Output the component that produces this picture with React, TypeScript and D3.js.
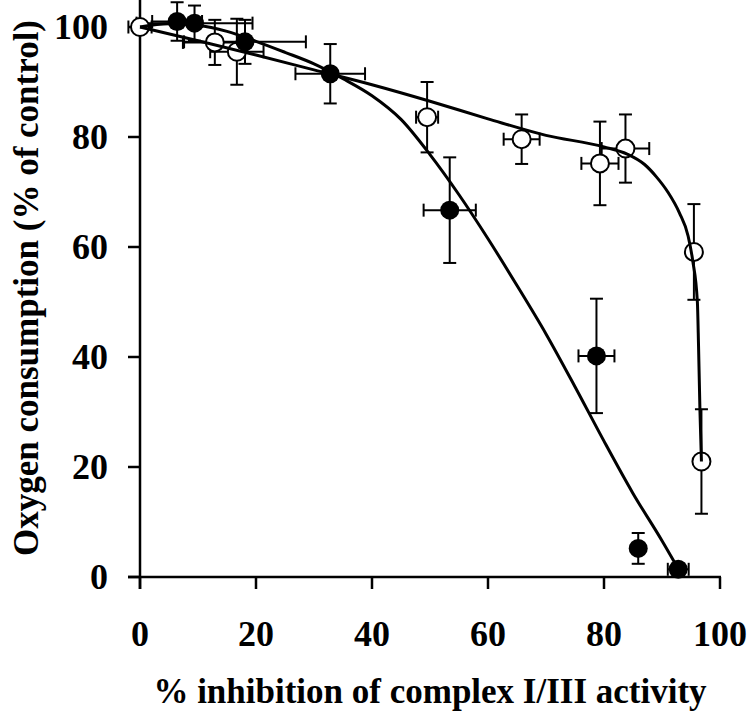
import React from "react";
import * as d3 from "d3";

// Filled circles
const filledX = [6.4, 9.4, 18.1, 32.8, 53.4, 78.7, 85.9, 92.8];
const filledY = [101.0, 100.7, 97.3, 91.5, 66.7, 40.2, 5.2, 1.4];
const filledXErr = [4.3, 10, 10.5, 6, 4.5, 3.1, 0, 1.8];
const filledYErr = [3.5, 3.2, 4, 5.4, 9.6, 10.4, 2.8, 1];

// Open circles
const openX = [0, 12.9, 16.7, 49.5, 65.8, 79.3, 83.7, 95.5, 96.8];
const openY = [100, 97.2, 95.5, 83.6, 79.6, 75.2, 77.9, 59.1, 21.0];
const openXErr = [2, 5.5, 4.6, 1.9, 3.1, 3.2, 4.1, 0, 0];
const openYErr = [1, 4.1, 6, 6.4, 4.5, 7.6, 6.2, 8.7, 9.5];

// Fitted curves
const filledCurveX = [0, 5, 10, 15, 20, 25, 30, 35, 40, 45, 50, 55, 60, 65, 70, 75, 80, 85, 90, 92.8];
const filledCurveY = [100, 100.6, 100.3, 99.2, 97.4, 95.4, 93.3, 90.6, 87.5, 83.2, 76.8, 69.5, 61.5, 53, 44.2, 34.6, 24.7, 15.2, 6.6, 1.5];
const openCurveX = [0, 10, 20, 30, 40, 50, 60, 70, 80, 84, 87, 89, 91, 93, 94.5, 95.3, 96.1, 96.3, 96.55, 96.8];
const openCurveY = [100, 97.5, 94.9, 92.2, 89.5, 86.5, 83.3, 80.3, 78.2, 76.9, 75, 72.8, 70, 66.2, 62, 57.5, 50, 42, 30, 21];

const xTicks = [0, 20, 40, 60, 80, 100];
const yTicks = [0, 20, 40, 60, 80, 100];

const FONT = "'Liberation Serif', 'Times New Roman', serif";

export default function App() {
  const x = d3.scaleLinear().domain([0, 100]).range([140, 720]);
  const y = d3.scaleLinear().domain([0, 100]).range([577, 27]);
  const line = d3
    .line<[number, number]>()
    .x((d) => x(d[0]))
    .y((d) => y(d[1]))
    .curve(d3.curveMonotoneX);
  const filledCurve = filledCurveX.map((v, i) => [v, filledCurveY[i]] as [number, number]);
  const openCurve = openCurveX.map((v, i) => [v, openCurveY[i]] as [number, number]);
  const cap = 6.5;

  const errorBars = (xs: number[], ys: number[], xe: number[], ye: number[], key: string) =>
    xs.map((xv, i) => {
      const cx = x(xv);
      const cy = y(ys[i]);
      const els: React.ReactNode[] = [];
      if (ye[i] > 0) {
        const y1 = y(ys[i] + ye[i]);
        const y2 = y(ys[i] - ye[i]);
        els.push(<line key="v" x1={cx} x2={cx} y1={y1} y2={y2} />);
        els.push(<line key="vt" x1={cx - cap} x2={cx + cap} y1={y1} y2={y1} />);
        els.push(<line key="vb" x1={cx - cap} x2={cx + cap} y1={y2} y2={y2} />);
      }
      if (xe[i] > 0) {
        const x1 = x(xv - xe[i]);
        const x2 = x(xv + xe[i]);
        els.push(<line key="h" x1={x1} x2={x2} y1={cy} y2={cy} />);
        els.push(<line key="hl" x1={x1} x2={x1} y1={cy - cap} y2={cy + cap} />);
        els.push(<line key="hr" x1={x2} x2={x2} y1={cy - cap} y2={cy + cap} />);
      }
      return <g key={key + i}>{els}</g>;
    });

  return (
    <svg
      width={750}
      height={716}
      style={{ position: "absolute", left: 0, top: 0, background: "#fff" }}
      fontFamily={FONT}
      fontWeight="bold"
    >
      <rect x={0} y={0} width={750} height={716} fill="#fff" />
      {/* axes */}
      <g stroke="#000" strokeWidth={2.5}>
        <line x1={140} x2={140} y1={0} y2={589} />
        <line x1={128} x2={721} y1={577} y2={577} />
        {xTicks.map((t) => (
          <line key={"xt" + t} x1={x(t)} x2={x(t)} y1={577} y2={589} />
        ))}
        {yTicks.map((t) => (
          <line key={"yt" + t} x1={128} x2={140} y1={y(t)} y2={y(t)} />
        ))}
      </g>
      <g fontSize={36} fill="#000">
        {xTicks.map((t) => (
          <text key={"xl" + t} x={x(t)} y={646} textAnchor="middle">
            {t}
          </text>
        ))}
        {yTicks.map((t) => (
          <text key={"yl" + t} x={108} y={y(t) + 12} textAnchor="end">
            {t}
          </text>
        ))}
      </g>
      <text x={430} y={703} textAnchor="middle" fontSize={35}>
        % inhibition of complex I/III activity
      </text>
      <text
        transform="translate(38,288) rotate(-90)"
        textAnchor="middle"
        fontSize={35}
      >
        Oxygen consumption (% of control)
      </text>
      {/* error bars */}
      <g stroke="#000" strokeWidth={2}>
        {errorBars(filledX, filledY, filledXErr, filledYErr, "f")}
        {errorBars(openX, openY, openXErr, openYErr, "o")}
      </g>
      {/* markers */}
      {openX.map((v, i) => (
        <circle key={"oc" + i} cx={x(v)} cy={y(openY[i])} r={9} fill="#fff" stroke="#000" strokeWidth={2} />
      ))}
      {filledX.map((v, i) => (
        <circle key={"fc" + i} cx={x(v)} cy={y(filledY[i])} r={9.5} fill="#000" />
      ))}
      {/* fitted curves */}
      <path d={line(filledCurve) || ""} fill="none" stroke="#000" strokeWidth={3} />
      <path d={line(openCurve) || ""} fill="none" stroke="#000" strokeWidth={3} />
    </svg>
  );
}
